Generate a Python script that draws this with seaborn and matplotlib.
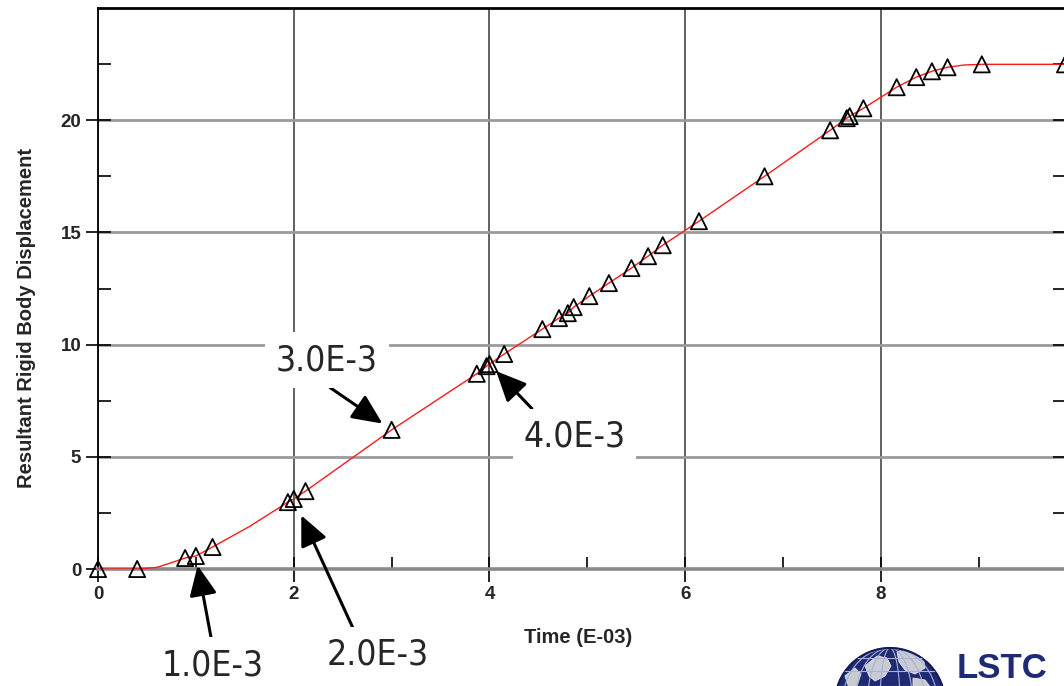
import matplotlib
matplotlib.use("Agg")
import numpy as np
import pandas as pd
import matplotlib.pyplot as plt
import seaborn as sns
from matplotlib.ticker import FixedLocator, NullFormatter
from matplotlib.patches import Circle, Ellipse, Polygon

# Resultant rigid-body displacement at the output states (time in E-03 s)
state_time = [0.00, 0.40, 0.89, 1.00, 1.17, 1.94, 2.00, 2.12, 3.00, 3.87, 3.97, 4.00, 4.15,
              4.54, 4.71, 4.80, 4.86, 5.02, 5.22, 5.45, 5.62, 5.77, 6.14, 6.81,
              7.48, 7.65, 7.68, 7.82, 8.16, 8.36, 8.52, 8.68, 9.03, 9.88]
state_disp = [0.00, 0.00, 0.49, 0.58, 0.98, 2.98, 3.12, 3.47, 6.20, 8.70, 9.04, 9.13, 9.58,
              10.69, 11.18, 11.40, 11.67, 12.16, 12.74, 13.41, 13.94, 14.43, 15.50, 17.50,
              19.55, 20.09, 20.18, 20.53, 21.47, 21.92, 22.18, 22.36, 22.49, 22.49]

# additional samples of the continuous history between output states
extra_time = [0.60, 0.75, 1.55, 8.85]
extra_disp = [0.07, 0.28, 1.90, 22.46]

x_ticks = [0, 2, 4, 6, 8]
y_ticks = [0, 5, 10, 15, 20]

# callouts: label text and the state time it points at
callout_labels = ["1.0E-3", "2.0E-3", "3.0E-3", "4.0E-3"]
callout_times = [1.0, 2.0, 3.0, 4.0]

states = pd.DataFrame({"time": state_time, "disp": state_disp})
history = pd.concat(
    [states, pd.DataFrame({"time": extra_time, "disp": extra_disp})]
).sort_values("time")

sns.set_theme(style="white")
plt.rcParams["font.family"] = ["Liberation Sans", "DejaVu Sans"]

fig = plt.figure(figsize=(10.64, 6.86), dpi=100)
W, H = 1064, 686
ax = fig.add_axes([98 / W, 1 - 569 / H, 967 / W, 561 / H])

sns.lineplot(data=history, x="time", y="disp", color="#ff1a1a", lw=1.0,
             sort=False, ax=ax, zorder=3)
sns.scatterplot(data=states, x="time", y="disp", marker="^", s=135,
                facecolors="none", edgecolors="black", linewidth=1.3,
                ax=ax, zorder=4, clip_on=False)

ax.set_xlim(0, 9.88)
ax.set_ylim(0, 25)
ax.xaxis.set_major_locator(FixedLocator(x_ticks))
ax.xaxis.set_minor_locator(FixedLocator([1, 3, 5, 7, 9]))
ax.yaxis.set_major_locator(FixedLocator(y_ticks))
ax.yaxis.set_minor_locator(FixedLocator([2.5, 7.5, 12.5, 17.5, 22.5]))
ax.xaxis.set_minor_formatter(NullFormatter())
ax.yaxis.set_minor_formatter(NullFormatter())

ax.tick_params(which="major", direction="inout", length=18, width=1.2,
               color="black", labelsize=13.5, pad=3)
ax.tick_params(which="minor", direction="in", length=9, width=1.2, color="black")
ax.tick_params(axis="y", which="both", right=True, left=True)
ax.tick_params(axis="x", which="both", bottom=True)
for lab in ax.get_xticklabels() + ax.get_yticklabels():
    lab.set_fontweight("bold")

ax.xaxis.grid(True, which="major", color="#555555", lw=1.3)
ax.yaxis.grid(True, which="major", color="#9a9a9a", lw=2.0)
ax.set_axisbelow(True)

ax.spines["left"].set_color("black")
ax.spines["left"].set_linewidth(1.3)
ax.spines["top"].set_color("black")
ax.spines["top"].set_linewidth(2.0)
ax.spines["bottom"].set_color("#8a8a8a")
ax.spines["bottom"].set_linewidth(2.6)
ax.spines["right"].set_visible(False)

ax.set_xlabel("Time (E-03)", fontsize=14.5, fontweight="bold", va="top")
ax.set_ylabel("Resultant Rigid Body Displacement", fontsize=14.5, fontweight="bold")
ax.xaxis.set_label_coords(0.496, -0.105)
ax.yaxis.set_label_coords(-0.064, 0.447)

# callout boxes with arrows pointing at the matching output states
text_pos = [(1.175, -4.28), (2.86, -3.83), (2.34, 9.31), (4.87, 5.92)]
rel_pos = [(0.5, 1.0), (0.3, 1.0), (0.38, 0.0), (0.18, 1.0)]
shrink = [7, 13, 8, 7]
for lab, t, tp, rp, sb in zip(callout_labels, callout_times, text_pos, rel_pos, shrink):
    d = np.interp(t, state_time, state_disp)
    ax.annotate(lab, xy=(t, d), xytext=tp, xycoords="data", textcoords="data",
                ha="center", va="center", fontsize=25.5,
                family="DejaVu Sans", fontstretch="condensed",
                bbox=dict(boxstyle="square,pad=0.3", fc="white", ec="none"),
                arrowprops=dict(arrowstyle="-|>,head_length=0.72,head_width=0.33",
                                color="black", lw=2.2, shrinkA=0, shrinkB=sb,
                                relpos=rp),
                annotation_clip=False, zorder=6)

# company logo in the lower right corner
logo = fig.add_axes([825 / W, 0, 130 / W, 50 / H])
logo.set_xlim(0, 130)
logo.set_ylim(0, 50)
logo.set_aspect("equal")
logo.axis("off")
cx, cy, r = 65, -17, 55
globe = Circle((cx, cy), r, fc="#1e2a74", ec="#162060", lw=1)
logo.add_patch(globe)
land = [
    [(40, 20), (52, 30), (62, 28), (66, 20), (60, 10), (50, 5), (44, 10)],
    [(72, 34), (85, 36), (98, 30), (100, 18), (90, 12), (80, 16), (74, 24)],
    [(20, 10), (30, 18), (36, 12), (32, 0), (24, -2)],
    [(88, 8), (100, 6), (106, -2), (96, -6), (88, 0)],
]
for pts in land:
    p = Polygon(pts, closed=True, fc="#c9cbd3", ec="#e8e8ee", lw=0.6)
    logo.add_patch(p)
    p.set_clip_path(globe)
for w in [20, 45, 70, 95]:
    e = Ellipse((cx, cy), w, 2 * r, fc="none", ec="#aab0d8", lw=0.8)
    logo.add_patch(e)
    e.set_clip_path(globe)
for yy in [0, 15, 28]:
    ln, = logo.plot([0, 130], [yy, yy], color="#aab0d8", lw=0.8)
    ln.set_clip_path(globe)
logo.add_patch(Circle((cx, cy), r, fc="none", ec="#141c55", lw=1.5))

fig.text(957 / W, 1 / H, "LSTC", fontsize=25, fontweight="bold", color="#1e2a74",
         family="Liberation Sans", ha="left", va="bottom")

fig.savefig("out.png", dpi=100, facecolor="white")
